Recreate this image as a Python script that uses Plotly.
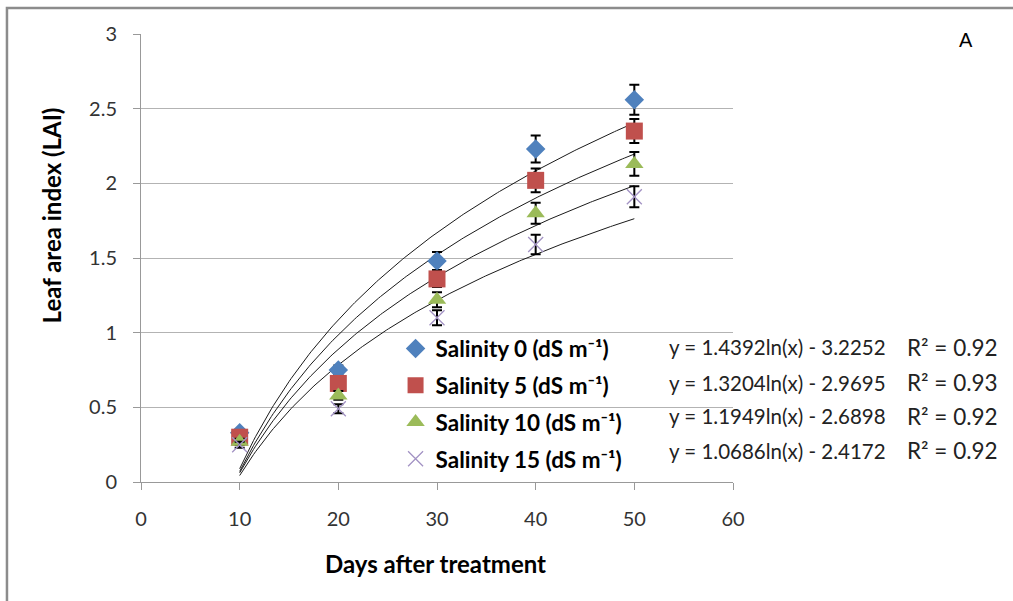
import numpy as np
import plotly.graph_objects as go

days = [10, 20, 30, 40, 50]
series_names = ["Salinity 0 (dS m⁻¹)", "Salinity 5 (dS m⁻¹)",
                "Salinity 10 (dS m⁻¹)", "Salinity 15 (dS m⁻¹)"]
lai_s0 = [0.33, 0.75, 1.48, 2.23, 2.56]
lai_s5 = [0.30, 0.66, 1.36, 2.02, 2.35]
lai_s10 = [0.27, 0.58, 1.22, 1.80, 2.13]
lai_s15 = [0.25, 0.49, 1.10, 1.59, 1.91]
err_s0 = [0.02, 0.03, 0.06, 0.09, 0.10]
err_s5 = [0.02, 0.03, 0.055, 0.08, 0.08]
err_s10 = [0.02, 0.03, 0.05, 0.07, 0.08]
err_s15 = [0.02, 0.03, 0.05, 0.065, 0.07]
fit_a = [1.4392, 1.3204, 1.1949, 1.0686]
fit_b = [-3.2252, -2.9695, -2.6898, -2.4172]
eq_labels = ["y = 1.4392ln(x) - 3.2252", "y = 1.3204ln(x) - 2.9695",
             "y = 1.1949ln(x) - 2.6898", "y = 1.0686ln(x) - 2.4172"]
r2_labels = ["R² = 0.92", "R² = 0.93", "R² = 0.92", "R² = 0.92"]

values = [lai_s0, lai_s5, lai_s10, lai_s15]
errors = [err_s0, err_s5, err_s10, err_s15]
colors = ["#4F81BD", "#C0504D", "#9BBB59", "#A393C4"]
symbols = ["diamond", "square", "triangle-up", "x-thin"]
sizes = [15, 17, 16, 15]

FONT = "Lato, 'Open Sans', sans-serif"

fig = go.Figure()

# trendlines
xs = np.linspace(min(days), max(days), 200)
for a, b in zip(fit_a, fit_b):
    fig.add_trace(go.Scatter(x=xs, y=a * np.log(xs) + b, mode="lines",
                             line=dict(color="#1a1a1a", width=1),
                             showlegend=False, hoverinfo="skip"))

for i in range(4):
    marker = dict(symbol=symbols[i], size=sizes[i], color=colors[i])
    if symbols[i] == "x-thin":
        marker["line"] = dict(color=colors[i], width=1.3)
    fig.add_trace(go.Scatter(
        x=days, y=values[i], mode="markers", name=series_names[i],
        legendgroup=f"g{i}",
        marker=marker,
        error_y=dict(type="data", array=errors[i], visible=True,
                     color="black", thickness=2, width=5),
    ))

annotations = []
eq_y = [0.3013, 0.2210, 0.1473, 0.0692]
for i in range(4):
    annotations.append(dict(x=0.8885, y=eq_y[i], xref="paper", yref="paper",
                            text=eq_labels[i], showarrow=False, xanchor="left",
                            yanchor="middle",
                            font=dict(family=FONT, size=20.5, color="#222")))
    annotations.append(dict(x=1.2905, y=eq_y[i], xref="paper", yref="paper",
                            text=r2_labels[i], showarrow=False, xanchor="left",
                            yanchor="middle",
                            font=dict(family=FONT, size=22.5, color="#222")))

annotations.append(dict(x=-0.152, y=0.595, xref="paper", yref="paper",
                        text="<b>Leaf area index (LAI)</b>", textangle=-90,
                        showarrow=False, xanchor="center", yanchor="middle",
                        font=dict(family=FONT, size=24, color="black")))
annotations.append(dict(x=0.498, y=-0.181, xref="paper", yref="paper",
                        text="<b>Days after treatment</b>",
                        showarrow=False, xanchor="center", yanchor="middle",
                        font=dict(family=FONT, size=24, color="black")))
annotations.append(dict(x=1.3936, y=0.9866, xref="paper", yref="paper",
                        text="A", showarrow=False, xanchor="center",
                        yanchor="middle",
                        font=dict(family="Liberation Sans, Arial", size=20,
                                  color="black")))

shapes = [dict(type="path", xref="paper", yref="paper",
               path="M -0.2264,-0.5 L -0.2264,1.058 L 1.6,1.058",
               line=dict(color="#8c8c8c", width=2.5))]

fig.update_layout(
    width=1013, height=601,
    margin=dict(l=141, r=280, t=34, b=119),
    paper_bgcolor="white", plot_bgcolor="white",
    font=dict(family=FONT, size=20, color="#333"),
    showlegend=True,
    legend=dict(x=0.43, y=0.345, xanchor="left", yanchor="top",
                bgcolor="rgba(0,0,0,0)", font=dict(family=FONT, size=22.5,
                                                   color="black", weight="bold"),
                tracegroupgap=4.5, itemwidth=30),
    xaxis=dict(range=[0, 60], dtick=10, showgrid=False, showline=True,
               linecolor="#999", linewidth=1, ticks="outside", ticklen=7,
               tickcolor="#999", zeroline=False, ticklabelstandoff=12,
               tickfont=dict(family=FONT, size=20, color="#333")),
    yaxis=dict(range=[0, 3], dtick=0.5, showgrid=True, gridcolor="#b3b3b3",
               gridwidth=1.3, showline=True, linecolor="#999", linewidth=1,
               ticks="outside", ticklen=7, tickcolor="#999", zeroline=False,
               ticklabelstandoff=12,
               tickfont=dict(family=FONT, size=20, color="#333")),
    annotations=annotations,
    shapes=shapes,
)

fig.write_html("out.html")
